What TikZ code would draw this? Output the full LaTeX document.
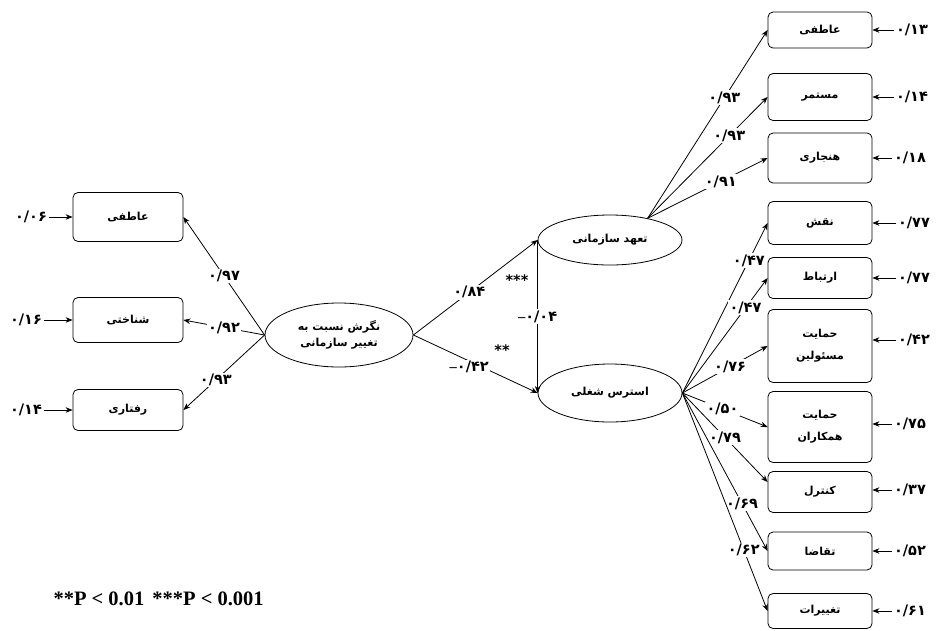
\documentclass[tikz,border=0pt]{standalone}
\usepackage{fontspec}
\usepackage{tikz}
\usetikzlibrary{arrows.meta}
\usetikzlibrary{shapes.geometric,positioning}
\TeXXeTstate=1
\newfontfamily\persfont[Script=Arabic]{DejaVu Sans}
\newfontfamily\legendfont{Liberation Serif}
\newcommand{\fatxt}[1]{\beginR #1\endR}
\newcommand{\minussign}{{\legendfont\bfseries –}}

\begin{document}
\begin{tikzpicture}[x=1pt,y=-1pt,
            box/.style={draw,line width=0.8pt,rounded corners=5pt,minimum width=104pt,minimum height=#1,
                align=center,font=\persfont\bfseries\fontsize{11}{22}\selectfont},
            box/.default=42pt,
            oval/.style={draw,ellipse,line width=0.8pt,inner sep=0pt,align=center,
                font=\persfont\bfseries\fontsize{11}{16}\selectfont},
            num/.style={font=\persfont\bfseries\fontsize{14.5}{14.5}\selectfont,inner sep=1.5pt},
            load/.style={num,fill=white},
            link/.style={-{Stealth[length=7pt,width=5.5pt]},line width=0.8pt}]
            \useasboundingbox (0,0) rectangle (936,630);

            \node[box=49pt,minimum width=110pt] (la) at (128,217) {\fatxt{عاطفی}};
            \node[box=45pt,minimum width=110pt] (lb) at (128,320) {\fatxt{شناختی}};
            \node[box=41pt,minimum width=110pt] (lc) at (128,410) {\fatxt{رفتاری}};
            \node[num] (ea) at (31,217) {۰/۰۶};
            \node[num] (eb) at (26,320) {۰/۱۶};
            \node[num] (ec) at (26,410) {۰/۱۴};

            \node[oval,minimum width=148pt,minimum height=64pt] (att) at (339,335)
                {\fatxt{نگرش نسبت به}\\\fatxt{تغییر سازمانی}};
            \node[oval,minimum width=144pt,minimum height=50pt] (commit) at (610,240) {\fatxt{تعهد سازمانی}};
            \node[oval,minimum width=144pt,minimum height=58pt] (stress) at (610,393) {\fatxt{استرس شغلی}};

            \node[box=36pt] (ra) at (820,30) {\fatxt{عاطفی}};
            \node[box=47pt] (rb) at (820,97) {\fatxt{مستمر}};
            \node[box=50pt] (rc) at (820,158) {\fatxt{هنجاری}};
            \node[box=43pt] (rd) at (820,223) {\fatxt{نقش}};
            \node[box=41pt] (re) at (820,278) {\fatxt{ارتباط}};
            \node[box=73pt] (rf) at (820,346) {\fatxt{حمایت}\\\fatxt{مسئولین}};
            \node[box=71pt] (rg) at (820,427) {\fatxt{حمایت}\\\fatxt{همکاران}};
            \node[box=41pt] (rh) at (820,492) {\fatxt{کنترل}};
            \node[box=38pt] (ri) at (820,551) {\fatxt{تقاضا}};
            \node[box=35pt] (rj) at (820,611) {\fatxt{تغییرات}};

            \node[num] (fa) at (912,30) {۰/۱۳};
            \node[num] (fb) at (912,97) {۰/۱۴};
            \node[num] (fc) at (910,158) {۰/۱۸};
            \node[num] (fd) at (914,223) {۰/۷۷};
            \node[num] (fe) at (914,278) {۰/۷۷};
            \node[num] (ff) at (914,340) {۰/۴۲};
            \node[num] (fg) at (910,424) {۰/۷۵};
            \node[num] (fh) at (910,490) {۰/۳۷};
            \node[num] (fi) at (910,551) {۰/۵۲};
            \node[num] (fj) at (910,611) {۰/۶۱};

            \draw[link] (ea) -- (la);
            \draw[link] (eb) -- (lb);
            \draw[link] (ec) -- (lc);
            \draw[link] (fa) -- (ra);
            \draw[link] (fb) -- (rb);
            \draw[link] (fc) -- (rc);
            \draw[link] (fd) -- (rd);
            \draw[link] (fe) -- (re);
            \draw[link] (ff.west) -- (ff.west -| rf.east);
            \draw[link] (fg) -- (rg.east |- fg);
            \draw[link] (fh) -- (rh.east |- fh);
            \draw[link] (fi) -- (ri);
            \draw[link] (fj) -- (rj);

            \draw[link] (att.west) -- (la.east) node[load,pos=0.5] {۰/۹۷};
            \draw[link] (att.west) -- (lb.east) node[load,pos=0.5] {۰/۹۲};
            \draw[link] (att.west) -- (lc.east) node[load,pos=0.6] {۰/۹۳};

            \draw[link] (att.east) -- (commit.west) node[load,pos=0.45] {۰/۸۴};
            \draw[link] (att.east) -- (stress.west) node[load,pos=0.45,yshift=-6pt] {\minussign۰/۴۲};
            \draw[link] (commit.west) -- (stress.west) node[load,pos=0.5] {\minussign۰/۰۴};
            \node[num] (sig3) at (517,280) {***};
            \node[num] (sig2) at (502,350) {**};

            \draw[link] (commit.30) -- (ra.west) node[load,pos=0.64] {۰/۹۳};
            \draw[link] (commit.30) -- (rb.west) node[load,pos=0.68] {۰/۹۳};
            \draw[link] (commit.30) -- (rc.west) node[load,pos=0.61] {۰/۹۱};

            \draw[link] (stress.east) -- (rd.west) node[load,pos=0.78] {۰/۴۷};
            \draw[link] (stress.east) -- (re.west) node[load,pos=0.74] {۰/۴۷};
            \draw[link] (stress.east) -- (rf.west) node[load,pos=0.56] {۰/۷۶};
            \draw[link] (stress.east) -- (rg.west) node[load,pos=0.47] {۰/۵۰};
            \draw[link] (stress.east) -- ([yshift=10pt]rh.west) node[load,pos=0.5] {۰/۷۹};
            \draw[link] (stress.east) -- (ri.west) node[load,pos=0.7] {۰/۶۹};
            \draw[link] (stress.east) -- (rj.west) node[load,pos=0.72] {۰/۶۲};

            \node[anchor=west,font=\legendfont\bfseries\fontsize{20.5}{20.5}\selectfont] (legend) at (50,599)
                {**P < 0.01\hspace{8pt}***P < 0.001};
        \end{tikzpicture}
\end{document}
